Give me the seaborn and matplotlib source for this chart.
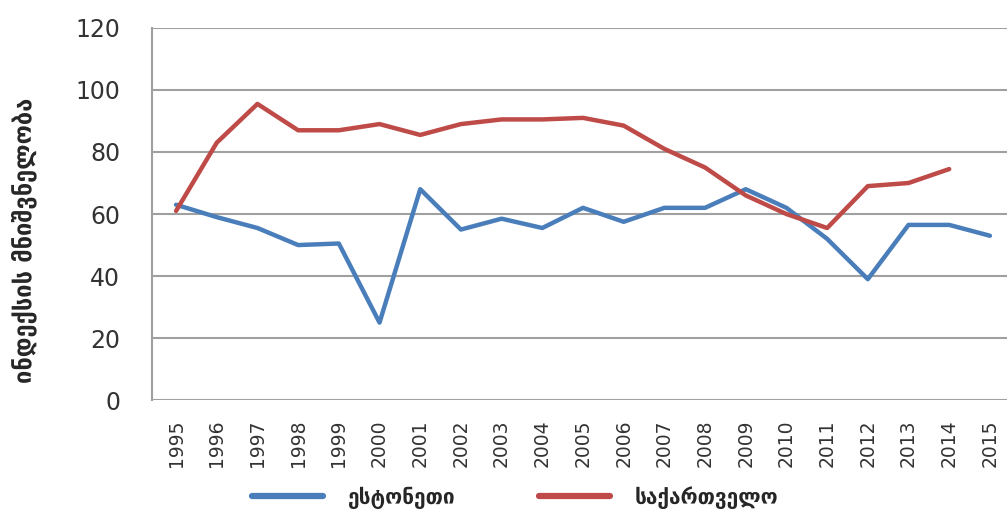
import numpy as np
import pandas as pd
import matplotlib.pyplot as plt
import seaborn as sns

# data
years = list(range(1995, 2016))
estonia = [63, 59, 55.5, 50, 50.5, 25, 68, 55, 58.5, 55.5, 62, 57.5,
           62, 62, 68, 62, 52, 39, 56.5, 56.5, 53]
georgia = [61, 83, 95.5, 87, 87, 89, 85.5, 89, 90.5, 90.5, 91, 88.5,
           81, 75, 66, 60, 55.5, 69, 70, 74.5, np.nan]
series_names = ['ესტონეთი', 'საქართველო']
y_label = 'ინდექსის მნიშვნელობა'

df = pd.DataFrame({
    'year': years * 2,
    'value': estonia + georgia,
    'country': [series_names[0]] * len(years) + [series_names[1]] * len(years),
})

sns.set_style('white')
plt.rcParams['font.family'] = ['DejaVu Sans']

fig = plt.figure(figsize=(10.07, 5.17), dpi=100)
ax = fig.add_axes([0.151, 0.226, 0.849, 0.72])

sns.lineplot(data=df, x='year', y='value', hue='country',
             palette=['#4a7ebb', '#be4b48'], linewidth=3.2, ax=ax,
             legend=False)

ax.set_xlim(1994.41, 2015.42)
ax.set_ylim(0, 120)
ax.set_yticks(range(0, 121, 20))
ax.set_xticks(years)
ax.set_xticklabels([str(y) for y in years], rotation=90, fontsize=13.5,
                   color='#333333')
ax.tick_params(axis='y', labelsize=17, colors='#333333', length=0, pad=23)
ax.tick_params(axis='x', length=0, pad=14)
ax.yaxis.grid(True, color='#a0a0a0', linewidth=1.5)
ax.set_axisbelow(True)
for side in ['top', 'right', 'bottom']:
    ax.spines[side].set_visible(False)
ax.spines['left'].set_color('#a0a0a0')
ax.spines['left'].set_linewidth(1.5)
ax.set_xlabel('')
ax.set_ylabel(y_label, fontsize=17, fontweight='bold')
ax.yaxis.set_label_coords(-0.135, 0.43)

handles = [plt.Line2D([], [], color='#4a7ebb', linewidth=4.5),
           plt.Line2D([], [], color='#be4b48', linewidth=4.5)]
fig.legend(handles, series_names, loc='lower center',
           bbox_to_anchor=(0.512, -0.02), ncol=2, frameon=False,
           handlelength=3.4, columnspacing=4.0, handletextpad=1.2,
           prop={'weight': 'bold', 'size': 15})

plt.savefig('out.png', dpi=100)
